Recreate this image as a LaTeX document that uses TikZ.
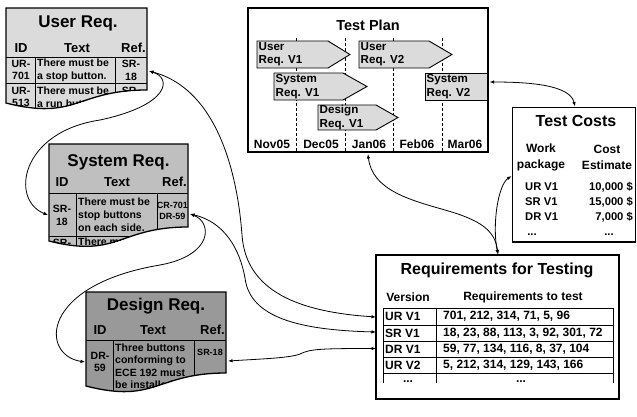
\documentclass[tikz,border=0pt]{standalone}
\usepackage{fontspec}
\setmainfont{Liberation Sans}
\usetikzlibrary{arrows.meta}
\definecolor{docA}{gray}{0.86}
\definecolor{docB}{gray}{0.75}
\definecolor{docC}{gray}{0.60}
\definecolor{barfill}{gray}{0.86}
\tikzset{
  conn/.style={line width=0.8pt, {Latex[length=4.5pt,width=3.5pt]}-{Latex[length=4.5pt,width=3.5pt]}},
  docline/.style={line width=0.8pt},
  docedge/.style={line width=1.3pt},
  doctitle/.style={font=\bfseries\fontsize{17}{19}\selectfont, inner sep=0pt},
  colhead/.style={font=\bfseries\fontsize{13}{15}\selectfont, inner sep=0pt},
  cell/.style={font=\bfseries\fontsize{10.5}{12.8}\selectfont, inner sep=0pt},
  smallcell/.style={font=\bfseries\fontsize{9}{11.5}\selectfont, inner sep=0pt},
  bar/.style={draw, line width=0.9pt, fill=barfill},
  bartext/.style={font=\bfseries\fontsize{11.6}{13.3}\selectfont, inner sep=0pt, align=left, anchor=west},
  month/.style={font=\bfseries\fontsize{12}{14}\selectfont, inner sep=0pt},
  frame/.style={draw, line width=1.5pt},
  boxtitle/.style={font=\bfseries\fontsize{16}{18}\selectfont, inner sep=0pt},
  tab/.style={font=\bfseries\fontsize{12}{14}\selectfont, inner sep=0pt},
  costhead/.style={font=\bfseries\fontsize{12}{16}\selectfont, inner sep=0pt, align=center},
  costtxt/.style={font=\bfseries\fontsize{11.2}{14}\selectfont, inner sep=0pt},
  vline/.style={dashed, dash pattern=on 3pt off 2pt, line width=0.7pt},
}
\begin{document}
\begin{tikzpicture}[x=1pt,y=-1pt]
\useasboundingbox (0,0) rectangle (637,416);

% ---------------- User Req. ----------------
\path[fill=docA] (6,8) -- (147,8) -- (147,90) .. controls (76.5,90) and (76.5,121) .. (6,103) -- cycle;
\begin{scope}
  \clip (6,8) -- (147,8) -- (147,90) .. controls (76.5,90) and (76.5,121) .. (6,103) -- cycle;
  \draw[docline] (6,57) -- (147,57) (6,83) -- (147,83) (35,57) -- (35,125) (115,57) -- (115,125);
  \node[doctitle] (urT) at (78,23) {User Req.};
  \node[colhead] (urH1) at (21,48) {ID};
  \node[colhead] (urH2) at (77,48) {Text};
  \node[colhead, anchor=east] (urH3) at (146,48) {Ref.};
  \node[cell, align=center] (ur1id) at (21,70) {UR-\\701};
  \node[cell, align=left, anchor=west] (ur1tx) at (37,70) {There must be\\a stop button.};
  \node[cell, align=center] (ur1ref) at (131,70) {SR-\\18};
  \node[cell, align=center] (ur2id) at (21,97) {UR-\\513};
  \node[cell, align=left, anchor=west] (ur2tx) at (37,97) {There must be\\a run button.};
  \node[cell, align=center] (ur2ref) at (131,97) {SR-\\18};
\end{scope}
\draw[docedge] (6,8) -- (147,8) -- (147,90) .. controls (76.5,90) and (76.5,121) .. (6,103) -- cycle;

% ---------------- System Req. ----------------
\path[fill=docB] (49,144) -- (188,144) -- (188,227) .. controls (118.5,227) and (118.5,258.6) .. (49,241) -- cycle;
\begin{scope}
  \clip (49,144) -- (188,144) -- (188,227) .. controls (118.5,227) and (118.5,258.6) .. (49,241) -- cycle;
  \draw[docline] (49,193) -- (188,193) (49,236) -- (188,236) (76,193) -- (76,265) (157,193) -- (157,265);
  \node[doctitle] (srT) at (118.5,162) {System Req.};
  \node[colhead] (srH1) at (62,182) {ID};
  \node[colhead] (srH2) at (117,182) {Text};
  \node[colhead, anchor=east] (srH3) at (187,182) {Ref.};
  \node[cell, align=center] (sr1id) at (62,215) {SR-\\18};
  \node[cell, align=left, anchor=west] (sr1tx) at (78,214.5) {There must be\\stop buttons\\on each side.};
  \node[smallcell, align=center] (sr1ref) at (172.5,211) {CR-701\\DR-59};
  \node[cell, anchor=north] (sr2id) at (62,239) {SR-};
  \node[cell, anchor=north west] (sr2tx) at (78,238) {There must be};
\end{scope}
\draw[docedge] (49,144) -- (188,144) -- (188,227) .. controls (118.5,227) and (118.5,258.6) .. (49,241) -- cycle;

% ---------------- Design Req. ----------------
\path[fill=docC] (86,292) -- (226,292) -- (226,373) .. controls (156,373) and (156,404) .. (86,386) -- cycle;
\begin{scope}
  \clip (86,292) -- (226,292) -- (226,373) .. controls (156,373) and (156,404) .. (86,386) -- cycle;
  \draw[docline] (86,340) -- (226,340) (113,340) -- (113,410) (194,340) -- (194,410);
  \node[doctitle] (drT) at (156,306) {Design Req.};
  \node[colhead] (drH1) at (100,330) {ID};
  \node[colhead] (drH2) at (153,330) {Text};
  \node[colhead, anchor=east] (drH3) at (225,330) {Ref.};
  \node[cell, align=center] (dr1id) at (100,362) {DR-\\59};
  \node[cell, align=left, anchor=north west, font=\bfseries\fontsize{10.5}{12.5}\selectfont] (dr1tx) at (115,343.5) {Three buttons\\conforming to\\ECE 192 must\\be installed};
  \node[smallcell] (dr1ref) at (210,352) {SR-18};
\end{scope}
\draw[docedge] (86,292) -- (226,292) -- (226,373) .. controls (156,373) and (156,404) .. (86,386) -- cycle;

% ---------------- Test Plan ----------------
\node[boxtitle, font=\bfseries\fontsize{14.5}{16}\selectfont] (tpT) at (368,25) {Test Plan};
\draw[vline] (296,38) -- (296,151) (345,38) -- (345,151) (393,38) -- (393,151) (442,38) -- (442,151);
\path[bar] (257,41) -- (328,41) -- (350,54.5) -- (328,68) -- (257,68) -- cycle;
\node[bartext] (b1) at (258.5,54.5) {User\\Req. V1};
\path[bar] (359,41) -- (429,41) -- (452,54.5) -- (429,68) -- (359,68) -- cycle;
\node[bartext] (b2) at (360.5,54.5) {User\\Req. V2};
\path[bar] (274,73) -- (343,73) -- (367,86.5) -- (343,100) -- (274,100) -- cycle;
\node[bartext] (b3) at (275.5,86.5) {System\\Req. V1};
\path[bar] (318,105) -- (376,105) -- (398,117.5) -- (376,130) -- (318,130) -- cycle;
\node[bartext] (b4) at (319.5,117.5) {Design\\Req. V1};
\path[bar] (425,73) rectangle (488,100);
\node[bartext] (b5) at (426.5,86.5) {System\\Req. V2};
\node[month] (m1) at (272,144) {Nov05};
\node[month] (m2) at (321,144) {Dec05};
\node[month] (m3) at (369,144) {Jan06};
\node[month] (m4) at (417,144) {Feb06};
\node[month] (m5) at (465,144) {Mar06};
\draw[frame] (248,8) rectangle (488,152);

% ---------------- Test Costs ----------------
\draw[frame] (512.5,107.5) rectangle (635.5,242);
\node[boxtitle] (tcT) at (576,121) {Test Costs};
\node[costhead] (tcH1) at (541,157) {Work\\package};
\node[costhead] (tcH2) at (607,157) {Cost\\Estimate};
\node[costtxt, anchor=west] (tc1a) at (525,187) {UR V1};
\node[costtxt, anchor=west] (tc2a) at (525,202) {SR V1};
\node[costtxt, anchor=west] (tc3a) at (525,217) {DR V1};
\node[costtxt, anchor=base] (tc4a) at (532,235) {...};
\node[costtxt, anchor=east] (tc1b) at (633,187) {10,000 \$};
\node[costtxt, anchor=east] (tc2b) at (633,202) {15,000 \$};
\node[costtxt, anchor=east] (tc3b) at (633,217) {7,000 \$};
\node[costtxt, anchor=base] (tc4b) at (609,235) {...};

% ---------------- Requirements for Testing ----------------
\draw[frame] (376,255) rectangle (619,399);
\node[boxtitle] (rtT) at (497,270) {Requirements for Testing};
\node[tab] (rtH1) at (408,297) {Version};
\node[tab] (rtH2) at (523,297) {Requirements to test};
\draw[line width=1pt] (383,308) -- (613,308) (383,325) -- (613,325) (383,341) -- (613,341)
  (383,357) -- (613,357) (383,373) -- (613,373)
  (383,308) -- (383,383) (436,308) -- (436,383) (613,308) -- (613,383);
\node[tab, anchor=west] (rt1a) at (385,316.5) {UR V1};
\node[tab, anchor=west] (rt2a) at (385,333) {SR V1};
\node[tab, anchor=west] (rt3a) at (385,349) {DR V1};
\node[tab, anchor=west] (rt4a) at (385,365) {UR V2};
\node[tab, anchor=west] (rt1b) at (443,316.5) {701, 212, 314, 71, 5, 96};
\node[tab, anchor=west] (rt2b) at (443,333) {18, 23, 88, 113, 3, 92, 301, 72};
\node[tab, anchor=west] (rt3b) at (443,349) {59, 77, 134, 116, 8, 37, 104};
\node[tab, anchor=west] (rt4b) at (443,365) {5, 212, 314, 129, 143, 166};
\node[tab, anchor=base] (rt5a) at (408,382) {...};
\node[tab, anchor=base] (rt5b) at (521,382) {...};

% ---------------- connector end points ----------------
\coordinate (pUR) at (149,71);
\coordinate (pSRid) at (48,215);
\coordinate (pSRref) at (190,214);
\coordinate (pDRid) at (85,362);
\coordinate (pDRref) at (228,361);
\coordinate (pRT1) at (376,317);
\coordinate (pRT2) at (376,332);
\coordinate (pRT3) at (376,348.5);
\coordinate (pTPb) at (368,154);
\coordinate (pRTtop) at (498,254.5);
\coordinate (pTCl) at (511.5,176);
\coordinate (pTPr) at (489.5,82);
\coordinate (pTCt) at (575,106.5);

% ---------------- connectors ----------------
\draw[conn] (pUR) .. controls (172,78) and (170,105) .. (100,120) .. controls (20,132) and (10,200) .. (pSRid);
\draw[conn] (pUR) .. controls (220,90) and (238,180) .. (242,235) .. controls (246,292) and (300,312) .. (pRT1);
\draw[conn] (pSRref) .. controls (225,222) and (240,250) .. (245,278) .. controls (250,318) and (300,330) .. (pRT2);
\draw[conn] (pSRref) .. controls (212,222) and (214,255) .. (160,265) .. controls (40,285) and (40,355) .. (pDRid);
\draw[conn] (pDRref) .. controls (260,359) and (290,358) .. (300,354) .. controls (310,349) and (320,348.5) .. (pRT3);
\draw[conn] (pTPb) .. controls (372,190) and (410,200) .. (445,210) .. controls (480,220) and (495,230) .. (pRTtop);
\draw[conn] (pRTtop) .. controls (492,225) and (498,185) .. (pTCl);
\draw[conn] (pTPr) .. controls (530,82) and (570,85) .. (pTCt);
\end{tikzpicture}
\end{document}
